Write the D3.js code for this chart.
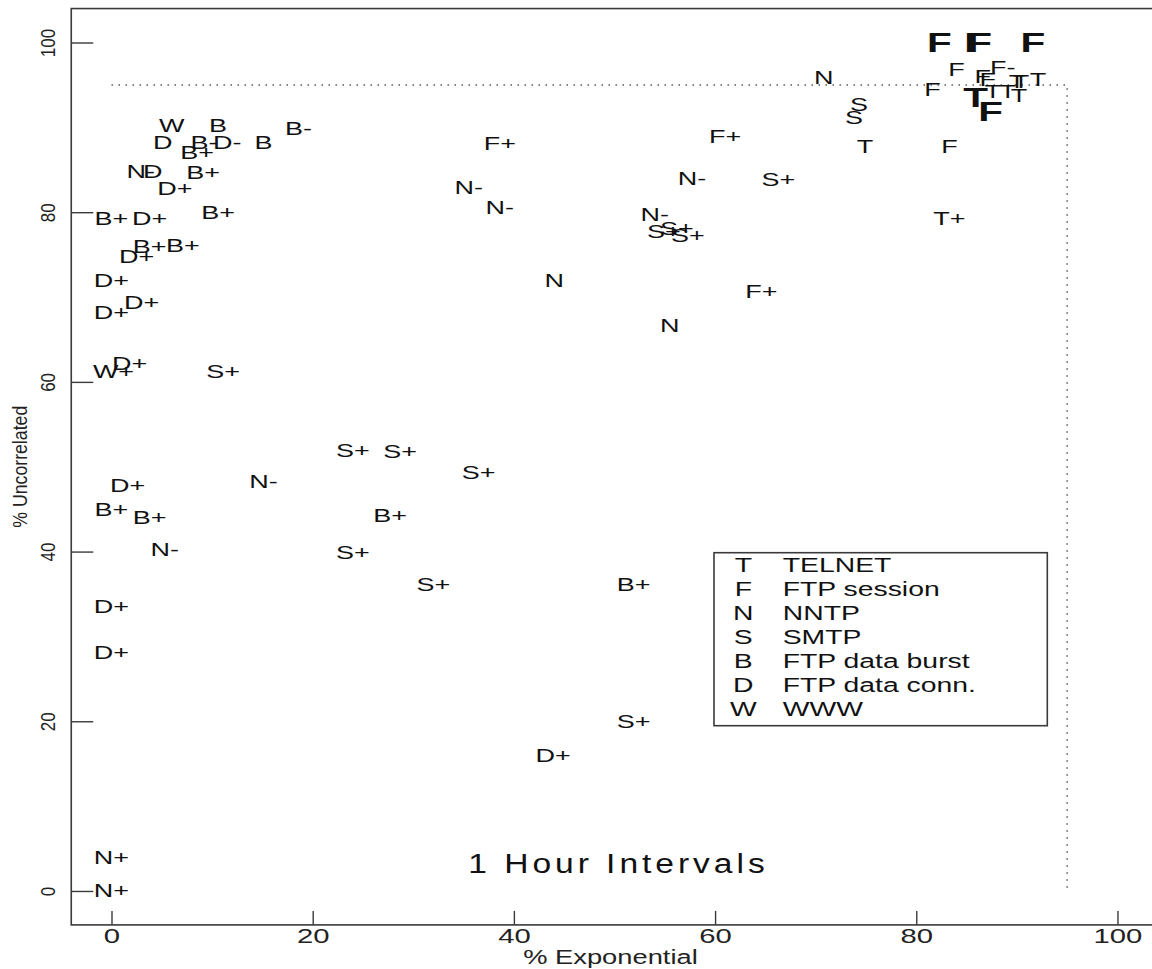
<!DOCTYPE html>
<html>
<head>
<meta charset="utf-8">
<script src="https://cdn.jsdelivr.net/npm/d3@7"></script>
<style>
  html, body { margin: 0; padding: 0; background: #fff; }
  svg { display: block; }
  text { font-family: "Liberation Sans", Arial, Helvetica, sans-serif; fill: #111; }
</style>
</head>
<body>
<svg id="chart" width="1152" height="969"></svg>
<script>
// Per-trace arrival tests: % of intervals consistent with exponential
// interarrivals vs. % of intervals with uncorrelated interarrivals.
// Each point is drawn as its protocol code (+/- marks the test variant).
const codes = [
  "W","B","B-","D","B-","D-","B","B+","N-","D","B+","D+",
  "B+","D+","B+","B+","B+","D+","D+","D+","D+",
  "W+","D+","S+","D+","N-","B+","B+","N-","D+","D+","N+","N+",
  "S+","S+","S+","B+","S+","S+","B+","S+","D+",
  "F+","F+","N-","N-","N-","S+","N-","S+","S+","S+","N","F+","N",
  "N","S","S","T","F","T+","F","F","F-","F","F","T","T","T","T","T","T"
];
const pctExponential = [
  6.0, 10.6, 18.6, 5.1, 9.2, 11.5, 15.1, 8.5, 2.9, 4.1, 9.1, 6.3,
  0, 3.8, 10.6, 3.8, 7.1, 2.5, 0, 3.0, 0,
  0.2, 1.8, 11.1, 1.6, 15.1, 0, 3.8, 5.3, 0, 0, 0, 0,
  24.0, 28.7, 36.5, 27.7, 24.0, 32.0, 51.9, 51.9, 43.9,
  38.6, 61.0, 35.5, 38.6, 57.7, 66.3, 54.0, 54.9, 56.2, 57.3, 44.0, 64.6, 55.5,
  70.8, 74.3, 73.8, 74.9, 83.3, 83.3, 81.6, 84.0, 88.6, 86.6, 87.1, 87.6, 89.1, 90.0, 90.4, 90.2, 92.1
];
const pctUncorrelated = [
  90.2, 90.2, 89.9, 88.2, 88.2, 88.2, 88.2, 87.0, 84.8, 84.8, 84.7, 82.8,
  79.2, 79.2, 80.0, 75.9, 76.1, 74.8, 72.0, 69.4, 68.2,
  61.2, 62.2, 61.2, 47.8, 48.2, 44.9, 44.0, 40.2, 33.5, 28.1, 4.0, 0,
  51.9, 51.8, 49.3, 44.3, 39.9, 36.1, 36.1, 20.0, 16.0,
  88.1, 88.9, 82.9, 80.6, 84.0, 83.8, 79.7, 77.7, 78.1, 77.3, 72.0, 70.6, 66.6,
  95.9, 92.7, 91.1, 87.7, 87.7, 79.2, 94.4, 96.8, 97.1, 96.0, 95.6, 94.2, 94.2, 95.4, 95.4, 93.8, 95.6
];

// Traces that pass both tests at the strictest level, set in bold
const boldCodes = ["F", "F", "F", "F", "T", "F"];
const boldExponential = [82.3, 86.0, 86.3, 91.6, 85.9, 87.4];
const boldUncorrelated = [100, 100, 100, 100, 93.6, 91.9];

const legendCodes = ["T", "F", "N", "S", "B", "D", "W"];
const legendNames = ["TELNET", "FTP session", "NNTP", "SMTP", "FTP data burst", "FTP data conn.", "WWW"];

const xTicks = [0, 20, 40, 60, 80, 100];
const yTicks = [0, 20, 40, 60, 80, 100];
const threshold = 95;
const xTitle = "% Exponential";
const yTitle = "% Uncorrelated";
const panelTitle = "1 Hour Intervals";

// ---------------------------------------------------------------------------
const svg = d3.select("#chart");
const x = d3.scaleLinear().domain([-4, 104]).range([71.26, 1157.7]);
const y = d3.scaleLinear().domain([-4, 104]).range([924.9, 8.56]);
const axisColor = "#3a3a3a";

// stretched text helper: glyphs widened horizontally (sx) with optional tracking
function label(parent, str, px, py, o) {
  const g = parent.append("g")
    .attr("transform", `translate(${px},${py})` + (o.rotate ? ` rotate(${o.rotate})` : "") +
      ` scale(${o.sx || 1},${o.sy || 1})`);
  const t = g.append("text")
    .attr("text-anchor", o.anchor || "middle")
    .attr("font-size", o.size)
    .attr("font-weight", o.weight || "normal")
    .text(str);
  if (o.dy) t.attr("dy", o.dy);
  if (o.ls) {
    t.style("letter-spacing", o.ls + "px");
    if ((o.anchor || "middle") === "middle") t.attr("dx", o.ls / 2);
  }
  if (o.fill) t.style("fill", o.fill);
  return t;
}

// plot frame
svg.append("rect")
  .attr("x", x(-4)).attr("y", y(104))
  .attr("width", x(104) - x(-4)).attr("height", y(-4) - y(104))
  .attr("fill", "none").attr("stroke", axisColor).attr("stroke-width", 1.6);

// x axis (ticks pointing into the panel)
const gx = svg.append("g").attr("transform", `translate(0,${y(-4)})`)
  .call(d3.axisBottom(x).tickValues(xTicks).tickSize(-14).tickSizeOuter(0).tickFormat(d3.format("d")));
gx.select(".domain").remove();
gx.selectAll(".tick line").attr("stroke", axisColor).attr("stroke-width", 1.4);
gx.selectAll(".tick text").remove();
gx.selectAll(".tick").each(function (d) {
  label(d3.select(this), String(d), 0, 18, { size: 19.5, sx: 1.5, fill: "#222" });
});

// y axis (ticks pointing into the panel, labels rotated)
const gy = svg.append("g").attr("transform", `translate(${x(-4)},0)`)
  .call(d3.axisLeft(y).tickValues(yTicks).tickSize(-22).tickSizeOuter(0).tickFormat(d3.format("d")));
gy.select(".domain").remove();
gy.selectAll(".tick line").attr("stroke", axisColor).attr("stroke-width", 1.4);
gy.selectAll(".tick text").remove();
gy.selectAll(".tick").each(function (d) {
  label(d3.select(this), String(d), -16, 0, { size: 17, rotate: -90, sy: 1.23, fill: "#222" });
});

// axis titles
label(svg, xTitle, (x(-4) + x(104)) / 2 - 4, 964, { size: 21, sx: 1.3, fill: "#222" });
label(svg, yTitle, 27, (y(-4) + y(104)) / 2, { size: 17.7, rotate: -90, sy: 1.18, fill: "#222" });

// 95% reference lines
svg.append("path")
  .attr("d", d3.line()([[x(0), y(threshold)], [x(threshold), y(threshold)], [x(threshold), y(0)]]))
  .attr("fill", "none").attr("stroke", "#555").attr("stroke-width", 1.5)
  .attr("stroke-dasharray", "1.5 5.5");

// panel title
label(svg, panelTitle, x(50) + 2, y(2.1), { size: 28, sx: 1.2, ls: 3.3 });

// data labels
const pts = codes.map((c, i) => ({ c, ex: pctExponential[i], un: pctUncorrelated[i] }));
const gPts = svg.append("g");
pts.forEach(p => label(gPts, p.c, x(p.ex), y(p.un), { size: 18, sx: 1.5, dy: "0.36em" }));

const boldPts = boldCodes.map((c, i) => ({ c, ex: boldExponential[i], un: boldUncorrelated[i] }));
boldPts.forEach(p => label(gPts, p.c, x(p.ex), y(p.un), { size: 27, sx: 1.5, weight: "bold", dy: "0.36em" }));

// legend
const lg = svg.append("g");
lg.append("rect")
  .attr("x", 714).attr("y", 552.7).attr("width", 333.3).attr("height", 173)
  .attr("fill", "#fff").attr("stroke", axisColor).attr("stroke-width", 1.6);
legendCodes.forEach((c, i) => {
  const by = 571.7 + i * 24.05;
  label(lg, c, 743.3, by, { size: 21, sx: 1.35 });
  label(lg, legendNames[i], 782.7, by, { size: 21, sx: 1.35, anchor: "start" });
});
</script>
</body>
</html>
